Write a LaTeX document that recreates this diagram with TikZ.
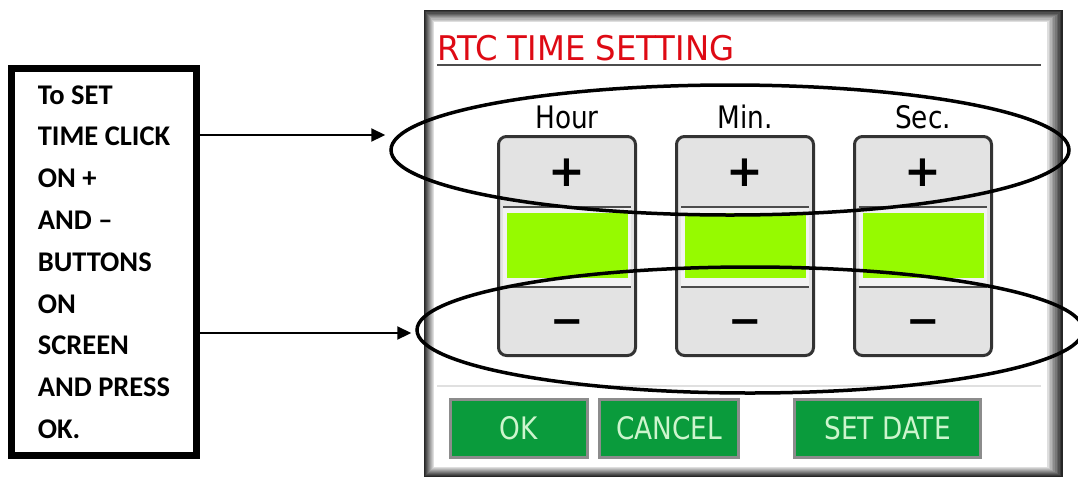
\documentclass[tikz,border=0pt]{standalone}
\usepackage{fontspec}
\usetikzlibrary{arrows.meta,shapes.geometric}
\setmainfont{Carlito}
\newfontfamily\lcdfont[FakeStretch=0.85]{DejaVu Sans}
\newfontfamily\titlefont[FakeStretch=0.95]{DejaVu Sans}
\newfontfamily\signfont{DejaVu Sans}
\definecolor{lcdgreen}{RGB}{150,250,0}
\definecolor{btngreen}{RGB}{10,155,60}
\definecolor{btntext}{RGB}{205,245,205}
\definecolor{titlered}{RGB}{222,10,20}

\tikzset{
    notebox/.style={draw, line width=7pt, minimum width=185pt, minimum height=387pt,
        align=left, font=\bfseries\fontsize{28.5}{41.8}\selectfont},
    pointer/.style={line width=2.2pt, -{Triangle[length=14pt,width=13pt]}, shorten >=4pt},
    ring/.style={draw, ellipse, line width=3.5pt, inner sep=0pt},
    column/.style={draw=black!80, line width=3pt, rounded corners=8pt, fill=black!11,
        minimum width=137pt, minimum height=219pt},
    field/.style={fill=lcdgreen, minimum width=121pt, minimum height=65pt, inner sep=0pt},
    sign/.style={inner sep=0pt},
    colhead/.style={anchor=base, inner sep=0pt, font=\lcdfont\fontsize{31}{31}\selectfont},
    softkey/.style={draw=black!45, line width=2.5pt, fill=btngreen, text=btntext,
        minimum height=58pt, font=\lcdfont\fontsize{31}{31}\selectfont}
}

\begin{document}
\begin{tikzpicture}[x=1pt, y=-1pt]
\useasboundingbox (0,0) rectangle (1078,477);

% screen frame
\foreach \k [evaluate=\k as \tone using 85-8*\k] in {0,...,9}
    \fill[black!\tone] (424+\k,10+1.2*\k) rectangle (1063-1.6*\k,477-\k);
\fill[white] (434,22) rectangle (1047,467);

\node[anchor=base west, inner sep=0pt, text=titlered,
      font=\titlefont\fontsize{34}{34}\selectfont] (title) at (437,60) {RTC TIME SETTING};
\draw[black!70, line width=2pt] (437,65) -- (1041,65);
\draw[black!12, line width=1.5pt] (437,386) -- (1041,386);

% hour / min / sec
\foreach \name/\lbl/\cx in {hour/Hour/567, min/Min./745, sec/Sec./923}{
    \node[colhead] (\name head) at (\cx,128) {\lbl};
    \node[column] (\name col) at (\cx,246) {};
    \fill[black!5] (\cx-64,207) rectangle (\cx+64,287);
    \draw[black!70, line width=1.5pt] (\cx-64,207) -- (\cx+64,207);
    \draw[black!70, line width=1.5pt] (\cx-64,287) -- (\cx+64,287);
    \node[field] (\name val) at (\cx,245.5) {};
    \node[sign, font=\signfont\bfseries\fontsize{44}{44}\selectfont] (\name up) at (\cx,173) {+};
    \node[sign, font=\signfont\bfseries\fontsize{40}{40}\selectfont] (\name down) at (\cx,327) {−};
}

% bottom keys
\node[softkey, minimum width=137pt] (okkey) at (519,428.5) {OK};
\node[softkey, minimum width=139pt] (cancelkey) at (669,428.5) {CANCEL};
\node[softkey, minimum width=186pt] (datekey) at (887.5,428.5) {SET DATE};

% marks
\node[ring, minimum width=678pt, minimum height=130pt] (upring) at (730,150) {};
\node[ring, minimum width=666pt, minimum height=126pt] (downring) at (750,330) {};

% note
\node[notebox] (note) at (104,262) {To SET\\TIME CLICK\\ON +\\AND –\\BUTTONS\\ON\\SCREEN\\AND PRESS\\OK.};

\draw[pointer] (note.east |- 0,135) -- (upring.west |- 0,135);
\draw[pointer] (note.east |- 0,333) -- (downring.west |- 0,333);

\end{tikzpicture}
\end{document}
